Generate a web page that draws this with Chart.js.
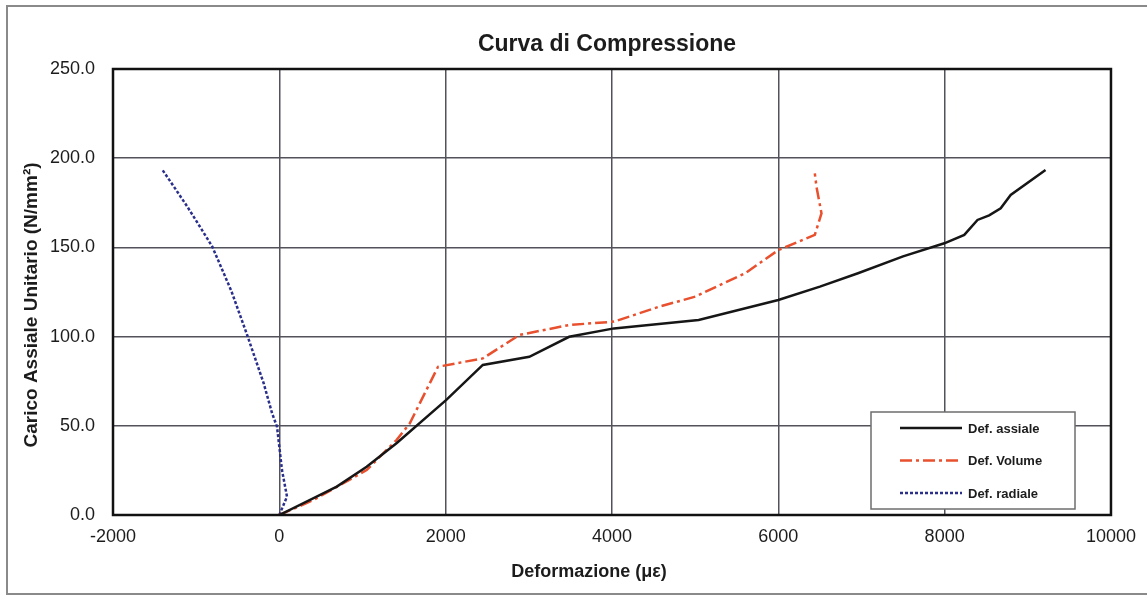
<!DOCTYPE html>
<html>
<head>
<meta charset="utf-8">
<title>Curva di Compressione</title>
<script src="https://cdn.jsdelivr.net/npm/chart.js@4"></script>
<style>
  html, body { margin: 0; padding: 0; background: #fff; }
  #wrap { position: relative; width: 1147px; height: 597px; }
</style>
</head>
<body>
<div id="wrap"><canvas id="c"></canvas></div>
<script>
/* Curva di Compressione — stress/strain curves */

const TITLE = "Curva di Compressione";
const X_TITLE = "Deformazione (\u03BC\u03B5)";
const Y_TITLE = "Carico Assiale Unitario (N/mm\u00B2)";

const X_TICKS = [-2000, 0, 2000, 4000, 6000, 8000, 10000];
const Y_TICKS = [0, 50, 100, 150, 200, 250];

// Def. assiale
const AX_X = [0, 691, 1050, 1409, 2008, 2447, 3006, 3485, 4024, 5042, 6000, 6500, 6958, 7500, 7996, 8236, 8395, 8535, 8674, 8794, 9213];
const AX_Y = [0, 15.9, 27.0, 40.2, 64.5, 84.1, 88.7, 99.9, 104.6, 109.3, 120.5, 128.0, 135.5, 145.0, 152.3, 157.0, 165.4, 168.0, 171.9, 179.4, 193.4];

// Def. Volume
const VOL_X = [0, 411, 1050, 1409, 1569, 1908, 2447, 2886, 3485, 4024, 4563, 5002, 5601, 6000, 6439, 6519, 6459, 6439];
const VOL_Y = [0, 8.4, 25.2, 42.0, 51.4, 83.1, 87.8, 100.9, 106.5, 108.4, 116.7, 122.4, 135.5, 148.5, 157.0, 169.1, 184.0, 191.5];

// Def. radiale
const RAD_X = [0, 92, 32, -28, -87, -188, -387, -578, -806, -960, -1106, -1260, -1405];
const RAD_Y = [0, 10.3, 25.2, 49.5, 57.0, 73.8, 100.9, 125.7, 150.4, 162.0, 172.8, 183.5, 193.4];

const BLACK = "#161616";
const RED = "#e8502e";
const BLUE = "#2b2f8c";
const GRID = "#52525a";
const TEXT = "#1c1c1c";
const FONT = "'Liberation Sans', Arial, sans-serif";

function pts(xs, ys) { return xs.map((x, i) => ({ x, y: ys[i] })); }

function series(label, xs, ys, color, dash) {
  return {
    label, data: pts(xs, ys), showLine: true,
    borderColor: color, backgroundColor: color,
    borderWidth: 2.5, borderDash: dash, pointRadius: 0, tension: 0,
  };
}

// frame, titles, plot box and legend box (drawn inside the plot like the original)
const decor = {
  id: "decor",
  beforeDraw(chart) {
    const ctx = chart.ctx;
    ctx.save();
    ctx.strokeStyle = "#8a8a8a";
    ctx.lineWidth = 2;
    ctx.strokeRect(7, 6, 1160, 588);
    ctx.restore();
  },
  afterDraw(chart) {
    const ctx = chart.ctx;
    const a = chart.chartArea;
    ctx.save();
    // plot border
    ctx.strokeStyle = "#111";
    ctx.lineWidth = 2.5;
    ctx.strokeRect(a.left, a.top, a.right - a.left, a.bottom - a.top);

    ctx.fillStyle = TEXT;
    ctx.textAlign = "center";
    ctx.textBaseline = "middle";
    ctx.font = "bold 23px " + FONT;
    ctx.fillText(TITLE, 607, 45);
    ctx.font = "bold 18px " + FONT;
    ctx.fillText(X_TITLE, 589, 572);
    ctx.translate(32, 305);
    ctx.rotate(-Math.PI / 2);
    ctx.font = "bold 19px " + FONT;
    ctx.fillText(Y_TITLE, 0, 0);
    ctx.restore();

    // legend
    ctx.save();
    const bx = 871, by = 412, bw = 204, bh = 97;
    ctx.fillStyle = "#fff";
    ctx.fillRect(bx, by, bw, bh);
    ctx.strokeStyle = "#6e6e6e";
    ctx.lineWidth = 1.5;
    ctx.strokeRect(bx, by, bw, bh);
    ctx.font = "bold 13px " + FONT;
    ctx.textAlign = "left";
    ctx.textBaseline = "middle";
    chart.data.datasets.forEach((ds, i) => {
      const y = 428 + i * 32.5;
      ctx.strokeStyle = ds.borderColor;
      ctx.lineWidth = 2.5;
      ctx.setLineDash(ds.borderDash || []);
      ctx.beginPath();
      ctx.moveTo(900, y);
      ctx.lineTo(962, y);
      ctx.stroke();
      ctx.setLineDash([]);
      ctx.fillStyle = TEXT;
      ctx.fillText(ds.label, 968, y + 1);
    });
    ctx.restore();
  },
};

new Chart(document.getElementById("c"), {
  type: "scatter",
  data: {
    datasets: [
      series("Def. assiale", AX_X, AX_Y, BLACK, []),
      series("Def. Volume", VOL_X, VOL_Y, RED, [12, 4, 3, 4]),
      series("Def. radiale", RAD_X, RAD_Y, BLUE, [3, 2]),
    ],
  },
  options: {
    responsive: true, maintainAspectRatio: false, animation: false,
    layout: { padding: { left: 8, top: 69, right: 36, bottom: 8 } },
    plugins: { legend: { display: false }, title: { display: false }, tooltip: { enabled: false } },
    scales: {
      x: {
        type: "linear", min: X_TICKS[0], max: X_TICKS[X_TICKS.length - 1],
        afterBuildTicks: s => { s.ticks = X_TICKS.map(v => ({ value: v })); },
        afterFit: s => { s.height = 74; },
        ticks: { color: TEXT, padding: 11, font: { size: 18, family: FONT }, callback: v => String(v) },
        grid: { color: GRID, lineWidth: 1.5, drawTicks: false },
        border: { display: false },
      },
      y: {
        type: "linear", min: Y_TICKS[0], max: Y_TICKS[Y_TICKS.length - 1],
        afterBuildTicks: s => { s.ticks = Y_TICKS.map(v => ({ value: v })); },
        afterFit: s => { s.width = 105; },
        ticks: { color: TEXT, padding: 18, font: { size: 18, family: FONT }, callback: v => Number(v).toFixed(1) },
        grid: { color: GRID, lineWidth: 1.5, drawTicks: false },
        border: { display: false },
      },
    },
  },
  plugins: [decor],
});
</script>
</body>
</html>
